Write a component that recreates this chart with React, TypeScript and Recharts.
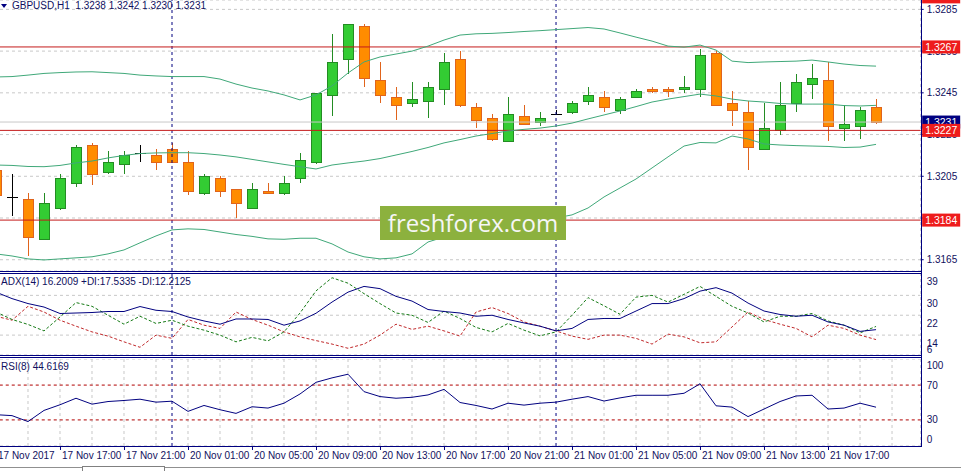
import React from 'react';
import { ComposedChart, Bar, Line, XAxis, YAxis, CartesianGrid, ReferenceLine } from 'recharts';

// GBPUSD H1, bars from 17 Nov 13:00 (index -1) to 21 Nov 20:00 (index 54)
const FIRST_BAR = -1;

const opens = [
  1.3208, 1.3195, 1.3194, 1.3175, 1.3190, 1.3202, 1.3220, 1.3207, 1.3211, 1.3216,
  1.3215, 1.3218, 1.3212, 1.3197, 1.3204, 1.3199, 1.3190, 1.3198, 1.3197, 1.3204,
  1.3212, 1.3244, 1.3261, 1.3277, 1.3251, 1.3243, 1.3240, 1.3241, 1.3247, 1.3261,
  1.3238, 1.3233, 1.3222, 1.3234, 1.3231, 1.3235, 1.3236, 1.3241, 1.3243, 1.3237,
  1.3243, 1.3247, 1.3247, 1.3247, 1.3247, 1.3264, 1.3240, 1.3236, 1.3218, 1.3227,
  1.3240, 1.3249, 1.3251, 1.3228, 1.3229, 1.3238,
];
const highs = [
  1.3209, 1.3206, 1.3197, 1.3197, 1.3206, 1.3220, 1.3221, 1.3217, 1.3217, 1.3220,
  1.3218, 1.3221, 1.3217, 1.3206, 1.3205, 1.3199, 1.3202, 1.3202, 1.3205, 1.3216,
  1.3245, 1.3273, 1.3278, 1.3278, 1.3260, 1.3248, 1.3250, 1.3250, 1.3264, 1.3265,
  1.3240, 1.3235, 1.3243, 1.3239, 1.3236, 1.3237, 1.3241, 1.3248, 1.3246, 1.3243,
  1.3247, 1.3248, 1.3248, 1.3253, 1.3266, 1.3265, 1.3246, 1.3241, 1.3240, 1.3250,
  1.3254, 1.3259, 1.3260, 1.3239, 1.3238, 1.3242,
];
const lows = [
  1.3195, 1.3186, 1.3167, 1.3175, 1.3189, 1.3200, 1.3201, 1.3206, 1.3206, 1.3212,
  1.3208, 1.3212, 1.3196, 1.3196, 1.3195, 1.3185, 1.3190, 1.3197, 1.3196, 1.3202,
  1.3211, 1.3234, 1.3254, 1.3248, 1.3240, 1.3232, 1.3238, 1.3233, 1.3239, 1.3238,
  1.3228, 1.3222, 1.3222, 1.3230, 1.3229, 1.3235, 1.3235, 1.3239, 1.3236, 1.3235,
  1.3243, 1.3245, 1.3243, 1.3245, 1.3243, 1.3239, 1.3229, 1.3208, 1.3218, 1.3225,
  1.3236, 1.3242, 1.3222, 1.3222, 1.3223, 1.3230,
];
const closes = [
  1.3196, 1.3195, 1.3176, 1.3192, 1.3204, 1.3219, 1.3206, 1.3212, 1.3215, 1.3216,
  1.3212, 1.3212, 1.3198, 1.3205, 1.3198, 1.3192, 1.3199, 1.3197, 1.3202, 1.3213,
  1.3245, 1.3260, 1.3278, 1.3252, 1.3244, 1.3239, 1.3242, 1.3248, 1.3260, 1.3239,
  1.3232, 1.3223, 1.3235, 1.3230, 1.3233, 1.3235, 1.3240, 1.3244, 1.3238, 1.3242,
  1.3246, 1.3246, 1.3246, 1.3248, 1.3263, 1.3239, 1.3237, 1.3219, 1.3228, 1.3239,
  1.3250, 1.3252, 1.3229, 1.3230, 1.3237, 1.3231,
];

// Bollinger bands
const bbUpper = [
  1.32526, 1.32528, 1.32535, 1.32543, 1.32547, 1.32550, 1.32551, 1.32547, 1.32543, 1.32535,
  1.32531, 1.32528, 1.32528, 1.32528, 1.32516, 1.32492, 1.32473, 1.32459, 1.32440, 1.32416,
  1.32440, 1.32483, 1.32545, 1.32598, 1.32622, 1.32636, 1.32650, 1.32674, 1.32703, 1.32727,
  1.32733, 1.32735, 1.32739, 1.32744, 1.32748, 1.32753, 1.32758, 1.32763, 1.32756, 1.32737,
  1.32717, 1.32698, 1.32674, 1.32669, 1.32679, 1.32655, 1.32602, 1.32595, 1.32598, 1.32600,
  1.32602, 1.32607, 1.32598, 1.32588, 1.32581, 1.32578,
];
const bbMiddle = [
  1.32104, 1.32102, 1.32097, 1.32096, 1.32102, 1.32114, 1.32123, 1.32138, 1.32150, 1.32159,
  1.32162, 1.32163, 1.32163, 1.32159, 1.32152, 1.32143, 1.32131, 1.32119, 1.32107, 1.32096,
  1.32085, 1.32104, 1.32114, 1.32123, 1.32135, 1.32152, 1.32169, 1.32188, 1.32210, 1.32226,
  1.32243, 1.32255, 1.32267, 1.32275, 1.32281, 1.32291, 1.32305, 1.32325, 1.32344, 1.32363,
  1.32384, 1.32406, 1.32420, 1.32432, 1.32444, 1.32435, 1.32420, 1.32411, 1.32406, 1.32399,
  1.32396, 1.32396, 1.32396, 1.32389, 1.32387, 1.32390,
];
const bbLower = [
  1.31678, 1.31668, 1.31654, 1.31649, 1.31654, 1.31659, 1.31664, 1.31678, 1.31697, 1.31731,
  1.31764, 1.31793, 1.31798, 1.31795, 1.31783, 1.31771, 1.31762, 1.31750, 1.31748, 1.31753,
  1.31753, 1.31726, 1.31687, 1.31664, 1.31654, 1.31659, 1.31678, 1.31735, 1.31759, 1.31778,
  1.31793, 1.31807, 1.31822, 1.31831, 1.31841, 1.31850, 1.31865, 1.31898, 1.31951, 1.31994,
  1.32037, 1.32090, 1.32143, 1.32195, 1.32212, 1.32210, 1.32243, 1.32229, 1.32205, 1.32200,
  1.32197, 1.32195, 1.32193, 1.32188, 1.32190, 1.32203,
];

// ADX(14)
const adx = [
  31.3, 28.7, 26.7, 25.3, 22.7, 22.9, 23.1, 23.5, 23.5, 25.5,
  24.0, 23.5, 21.3, 19.7, 18.4, 20.5, 20.5, 20.3, 18.0, 19.7,
  22.8, 27.3, 31.3, 33.6, 32.7, 29.6, 27.7, 24.3, 23.5, 22.9,
  21.6, 22.0, 20.3, 18.9, 17.6, 15.7, 16.7, 20.3, 20.7, 20.7,
  23.7, 26.7, 26.7, 28.7, 31.7, 33.1, 30.9, 26.9, 23.7, 22.3,
  21.6, 22.0, 19.3, 18.0, 15.5, 16.2,
];
const plusDi = [
  23.3, 20.3, 18.3, 15.7, 21.3, 27.1, 25.6, 22.0, 18.4, 21.6,
  18.7, 20.0, 17.6, 16.0, 14.0, 11.3, 13.1, 11.7, 15.3, 22.9,
  31.8, 37.1, 34.9, 30.7, 26.7, 22.9, 22.0, 19.1, 23.7, 20.7,
  17.1, 15.3, 18.7, 16.0, 13.7, 15.3, 22.0, 29.1, 25.8, 22.4,
  29.3, 30.0, 27.3, 30.4, 33.6, 29.6, 25.6, 22.9, 19.3, 21.6,
  21.6, 22.7, 19.7, 18.0, 14.9, 17.5,
];
const minusDi = [
  21.6, 20.0, 25.6, 23.3, 20.0, 17.6, 15.3, 13.6, 11.3, 9.1,
  14.0, 12.7, 20.3, 18.0, 16.7, 23.3, 20.3, 18.0, 15.3, 13.3,
  11.8, 10.4, 8.7, 10.4, 14.0, 18.4, 16.3, 17.6, 15.7, 13.6,
  23.3, 25.1, 22.7, 19.3, 17.6, 15.7, 13.6, 12.3, 14.0, 14.0,
  12.7, 10.4, 14.4, 13.3, 10.9, 11.3, 17.3, 23.3, 20.3, 18.4,
  16.7, 13.3, 18.0, 16.7, 14.0, 12.2,
];

// RSI(8)
const rsi = [
  36.0, 34.9, 28.1, 40.9, 47.4, 54.9, 48.1, 51.1, 52.3, 53.8,
  50.4, 51.5, 39.8, 46.6, 41.7, 37.5, 45.1, 43.6, 49.2, 59.8,
  73.2, 78.3, 82.5, 62.5, 56.8, 54.9, 56.0, 58.7, 65.1, 50.0,
  46.6, 42.5, 49.2, 47.0, 49.2, 50.4, 53.8, 56.8, 51.7, 55.3,
  58.3, 58.3, 58.3, 60.6, 71.5, 46.2, 44.7, 33.8, 42.5, 51.1,
  57.5, 58.3, 42.5, 43.6, 49.2, 44.6,
];

const priceTicks = [1.3165, 1.3185, 1.3205, 1.3225, 1.3245, 1.3265, 1.3285];
const adxTicks = [6, 14, 22, 30, 39];
const rsiTicks = [0, 30, 70, 100];
const rsiLevels = [70, 30];
const separatorBars = [10, 34];
const labelBars = [-1, 3, 7, 11, 15, 19, 23, 27, 31, 35, 39, 43, 47, 51];
const labelTexts = [
  '17 Nov 2017', '17 Nov 17:00', '17 Nov 21:00', '20 Nov 01:00', '20 Nov 05:00',
  '20 Nov 09:00', '20 Nov 13:00', '20 Nov 17:00', '20 Nov 21:00', '21 Nov 01:00',
  '21 Nov 05:00', '21 Nov 09:00', '21 Nov 13:00', '21 Nov 17:00',
];
const levels = [
  { price: 1.3231, line: '#c8c8c8', tag: '#000080', text: '1.3231' },
  { price: 1.3227, line: '#c41a1a', tag: '#ee1c1c', text: '1.3227' },
  { price: 1.3267, line: '#c41a1a', tag: '#ee1c1c', text: '1.3267' },
  { price: 1.3184, line: '#c41a1a', tag: '#ee1c1c', text: '1.3184' },
  { price: 1.3291, line: '#c41a1a', tag: '#ee1c1c', text: '1.3291' },
];

const rows = opens.map((o, k) => ({
  i: FIRST_BAR + k,
  open: o,
  high: highs[k],
  low: lows[k],
  close: closes[k],
  upper: bbUpper[k],
  middle: bbMiddle[k],
  lower: bbLower[k],
  adx: adx[k],
  plusDi: plusDi[k],
  minusDi: minusDi[k],
  rsi: rsi[k],
}));

const gridBars = Array.from({ length: 29 }, (_, k) => -1 + 2 * k);

const NAVY = '#000080';
const TXT = '#10105e';
const FONT = '"Liberation Sans", Arial, sans-serif';
const BAND = '#3fa878';
const CHART_LEFT = -11.7;
const CHART_W = 972.7;
const AXIS_W = 40;
const X_DOMAIN = [-1.5, 56.79];
const PRICE_DOMAIN = [1.31596, 1.32895];
const margin = { top: 0, right: 0, bottom: 0, left: 0 };

function Candle(props: any) {
  const { x, y, width, height, payload } = props;
  if (!payload) return null;
  const top = Math.min(y, y + height);
  const span = Math.abs(height);
  const { open, high, low, close } = payload;
  const toY = (p: number) => top + ((high - p) / (high - low)) * span;
  const wx = Math.round(x + width / 2 - 0.5) + 0.5;
  const hi = Math.round(toY(high));
  const lo = Math.round(toY(low));
  if (open === close) {
    const yy = Math.round(toY(open)) + 0.5;
    return (
      <g shapeRendering="crispEdges">
        <line x1={wx} x2={wx} y1={hi} y2={lo} stroke="#000" />
        <line x1={wx - 5.5} x2={wx + 5.5} y1={yy} y2={yy} stroke="#000" />
      </g>
    );
  }
  const bull = close > open;
  const fill = bull ? '#33cc33' : '#ff8c00';
  const edge = bull ? '#238c23' : '#e0641c';
  const bTop = Math.round(toY(Math.max(open, close)));
  const bBot = Math.round(toY(Math.min(open, close)));
  return (
    <g shapeRendering="crispEdges">
      <line x1={wx} x2={wx} y1={hi} y2={lo} stroke={edge} />
      <rect x={wx - 5} y={bTop + 0.5} width={10} height={Math.max(bBot - bTop, 1)} fill={fill} stroke={edge} />
    </g>
  );
}

function LevelTag(props: any) {
  const { viewBox, text, fill } = props;
  if (!viewBox) return null;
  const x = viewBox.x + viewBox.width + 1.5;
  const y = viewBox.y;
  return (
    <g>
      <rect x={x} y={y - 6.5} width={38} height={13} fill={fill} />
      <text x={x + 3} y={y} dy={3.6} fill="#ffffff" fontSize={10.5} fontFamily={FONT}>{text}</text>
    </g>
  );
}

function PriceTick(props: any) {
  const { x, y, payload } = props;
  return (
    <text x={x} y={y} dy={3.6} fontSize={10} fontFamily={FONT} fill={TXT}>
      {payload.value.toFixed(4)}
    </text>
  );
}

function AdxTick(props: any) {
  const { x, y, payload } = props;
  const shift = payload.value === 6 ? -6 : 8;
  return (
    <text x={x} y={y + shift} dy={3.6} fontSize={10} fontFamily={FONT} fill={TXT}>
      {payload.value}
    </text>
  );
}

function RsiTick(props: any) {
  const { x, y, payload } = props;
  const shift = payload.value === 100 ? 6 : payload.value === 0 ? -7 : 0;
  return (
    <text x={x} y={y + shift} dy={3.6} fontSize={10} fontFamily={FONT} fill={TXT}>
      {payload.value}
    </text>
  );
}

function TimeTick(props: any) {
  const { x, y, payload } = props;
  const k = labelBars.indexOf(payload.value);
  if (k < 0) return null;
  return (
    <g>
      <line x1={Math.round(x) + 0.5} x2={Math.round(x) + 0.5} y1={y} y2={y + 4} stroke={NAVY} />
      <text x={x + 2} y={y + 13} fontSize={10} fontFamily={FONT} fill={TXT}>{labelTexts[k]}</text>
    </g>
  );
}

const hLine = (top: number) => (
  <div key={top} style={{ position: 'absolute', left: 0, top, width: 922, height: 1, background: NAVY }} />
);

export default function App() {
  return (
    <div style={{ position: 'absolute', left: 0, top: 0, width: 961, height: 471, overflow: 'hidden', background: '#fff', fontFamily: FONT }}>
      {/* price window */}
      <div style={{ position: 'absolute', left: CHART_LEFT, top: 0 }}>
        <ComposedChart width={CHART_W} height={271} data={rows} margin={margin}>
          <CartesianGrid stroke="#c8c8c8" strokeDasharray="3 3" />
          <XAxis type="number" dataKey="i" domain={X_DOMAIN} allowDataOverflow ticks={gridBars} interval={0}
            tick={false} axisLine={false} tickLine={false} height={0} />
          <YAxis orientation="right" width={AXIS_W} domain={PRICE_DOMAIN} allowDataOverflow ticks={priceTicks}
            interval={0} tick={<PriceTick />} axisLine={false} tickLine={{ stroke: NAVY }} tickSize={3} tickMargin={3} />
          {separatorBars.map((b) => (
            <ReferenceLine key={b} x={b} stroke={NAVY} strokeDasharray="3 3" />
          ))}
          {levels.map((l) => (
            <ReferenceLine key={l.text} y={l.price} stroke={l.line} />
          ))}
          <Line dataKey="upper" stroke={BAND} dot={false} isAnimationActive={false} />
          <Line dataKey="middle" stroke={BAND} dot={false} isAnimationActive={false} />
          <Line dataKey="lower" stroke={BAND} dot={false} isAnimationActive={false} />
          <Bar dataKey={(d: any) => [d.low, d.high]} barSize={10} shape={<Candle />} isAnimationActive={false} />
        </ComposedChart>
      </div>

      {/* price tags, drawn above the axis labels */}
      <div style={{ position: 'absolute', left: CHART_LEFT, top: 0 }}>
        <ComposedChart width={CHART_W} height={271} data={rows} margin={margin}>
          <XAxis type="number" dataKey="i" domain={X_DOMAIN} allowDataOverflow hide />
          <YAxis orientation="right" width={AXIS_W} domain={PRICE_DOMAIN} allowDataOverflow tick={false}
            axisLine={false} tickLine={false} />
          {levels.map((l) => (
            <ReferenceLine key={l.text} y={l.price} stroke="none" ifOverflow="visible"
              label={<LevelTag text={l.text} fill={l.tag} />} />
          ))}
        </ComposedChart>
      </div>

      {/* ADX window */}
      <div style={{ position: 'absolute', left: CHART_LEFT, top: 273 }}>
        <ComposedChart width={CHART_W} height={82} data={rows} margin={margin}>
          <CartesianGrid stroke="#c8c8c8" strokeDasharray="3 3" />
          <XAxis type="number" dataKey="i" domain={X_DOMAIN} allowDataOverflow ticks={gridBars} interval={0}
            tick={false} axisLine={false} tickLine={false} height={0} />
          <YAxis orientation="right" width={AXIS_W} domain={[6, 39]} allowDataOverflow ticks={adxTicks} interval={0}
            tick={<AdxTick />} axisLine={false} tickLine={false} tickSize={3} tickMargin={3} />
          {separatorBars.map((b) => (
            <ReferenceLine key={b} x={b} stroke={NAVY} strokeDasharray="3 3" />
          ))}
          <Line dataKey="minusDi" stroke="#c0282a" strokeDasharray="3 2" dot={false} isAnimationActive={false} />
          <Line dataKey="plusDi" stroke="#167a16" strokeDasharray="3 2" dot={false} isAnimationActive={false} />
          <Line dataKey="adx" stroke={NAVY} dot={false} isAnimationActive={false} />
        </ComposedChart>
      </div>

      {/* RSI window */}
      <div style={{ position: 'absolute', left: CHART_LEFT, top: 359 }}>
        <ComposedChart width={CHART_W} height={112} data={rows} margin={margin}>
          <CartesianGrid stroke="#c8c8c8" strokeDasharray="3 3" />
          <XAxis type="number" dataKey="i" domain={X_DOMAIN} allowDataOverflow ticks={gridBars} interval={0}
            tick={<TimeTick />} axisLine={false} tickLine={false} tickSize={0} tickMargin={0} height={25} />
          <YAxis orientation="right" width={AXIS_W} domain={[0, 100]} allowDataOverflow ticks={rsiTicks} interval={0}
            tick={<RsiTick />} axisLine={false} tickLine={false} tickSize={3} tickMargin={3} />
          {separatorBars.map((b) => (
            <ReferenceLine key={b} x={b} stroke={NAVY} strokeDasharray="3 3" />
          ))}
          {rsiLevels.map((v) => (
            <ReferenceLine key={v} y={v} stroke="#cc1a1a" strokeDasharray="3 3" />
          ))}
          <Line dataKey="rsi" stroke={NAVY} dot={false} isAnimationActive={false} />
        </ComposedChart>
      </div>

      {/* window frames */}
      {[271, 273, 355, 357, 446].map(hLine)}
      <div style={{ position: 'absolute', left: 921, top: 0, width: 1, height: 447, background: NAVY }} />
      <div style={{ position: 'absolute', left: 0, top: 467, width: 961, height: 1, background: '#909090' }} />
      <div style={{ position: 'absolute', left: 82, top: 466, width: 81, height: 6, background: '#fff', border: '1px solid #808080', borderBottom: 'none' }} />

      {/* labels */}
      <svg style={{ position: 'absolute', left: 0, top: 0 }} width={10} height={12}>
        <polygon points="1,4 7,4 4,8" fill={NAVY} />
      </svg>
      <div style={{ position: 'absolute', left: 12, top: 0, fontSize: 10, lineHeight: '12px', color: TXT, whiteSpace: 'pre' }}>
        GBPUSD,H1  1.3238 1.3242 1.3230 1.3231
      </div>
      <div style={{ position: 'absolute', left: 1, top: 276, fontSize: 10, lineHeight: '12px', color: TXT, whiteSpace: 'pre' }}>
        ADX(14) 16.2009 +DI:17.5335 -DI:12.2125
      </div>
      <div style={{ position: 'absolute', left: 1, top: 361, fontSize: 10, lineHeight: '12px', color: TXT, whiteSpace: 'pre' }}>
        RSI(8) 44.6169
      </div>

      {/* watermark */}
      <div style={{
        position: 'absolute', left: 380, top: 206, width: 186, height: 34, background: '#8cb13e',
        color: '#f6f6f6', fontFamily: '"Open Sans", sans-serif', fontSize: 24, lineHeight: '33px', textAlign: 'center',
      }}>
        freshforex.com
      </div>
    </div>
  );
}
